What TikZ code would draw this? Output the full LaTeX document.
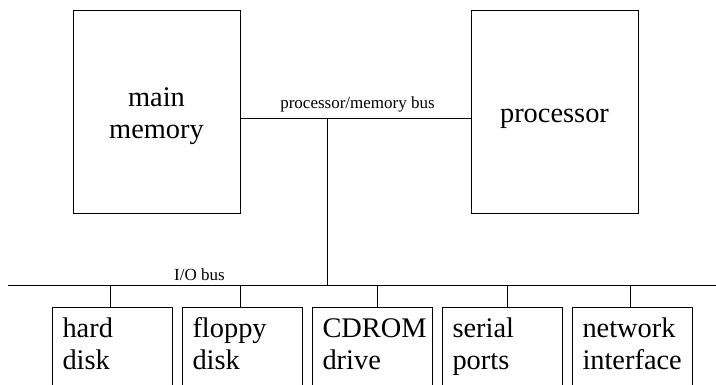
\documentclass[tikz,border=0pt]{standalone}
\usepackage{fontspec}
\setmainfont{Liberation Serif}
\begin{document}
\begin{tikzpicture}[x=1pt,y=-1pt,line width=1pt,
  big/.style={font=\fontsize{28.4}{32}\selectfont,inner sep=0pt},
  small/.style={font=\fontsize{17}{20}\selectfont,inner sep=0pt},
  bigbox/.style={draw,rectangle,inner sep=0pt,anchor=north west,minimum width=167pt,minimum height=203pt},
  devbox/.style={draw,rectangle,inner sep=0pt,anchor=north west,minimum width=120pt,minimum height=110pt},
  devtext/.style={big,align=left,anchor=base west}]
\useasboundingbox (0,0) rectangle (716,384);
\clip (0,0) rectangle (716,384);
% upper boxes
\node[bigbox] (mm) at (73,10) {};
\node[bigbox] (proc) at (471,10) {};
\node[big,align=center,anchor=base] (mmtxt) at (156.5,138) {main\\memory};
\node[big,anchor=base] (proctxt) at (554.5,122) {processor};
% buses
\coordinate (mbus) at (327,118);
\coordinate (iol) at (8,285);
\coordinate (ior) at (716,285);
\draw (mm.east |- mbus) -- (proc.west |- mbus);
\node[small,anchor=base] (mbuslbl) at (357.5,108) {processor/memory bus};
\draw (iol) -- (ior);
\draw (mbus) -- (mbus |- iol);
\node[small,anchor=base] (iobuslbl) at (199.5,280) {I/O bus};
% devices
\node[devbox] (d1) at (52,307) {};
\node[devbox] (d2) at (182,307) {};
\node[devbox] (d3) at (312,307) {};
\node[devbox] (d4) at (442,307) {};
\node[devbox] (d5) at (572,307) {};
\node[devtext] (t1) at (62,369) {hard\\disk};
\node[devtext] (t2) at (192,369) {floppy\\disk};
\node[devtext] (t3) at (322,369) {CDROM\\drive};
\node[devtext] (t4) at (452,369) {serial\\ports};
\node[devtext] (t5) at (582,369) {network\\interface};
% stubs
\draw ([xshift=-2pt]d1.north) -- ([xshift=-2pt]d1.north |- iol);
\draw ([xshift=-2pt]d2.north) -- ([xshift=-2pt]d2.north |- iol);
\draw ([xshift=5pt]d3.north) -- ([xshift=5pt]d3.north |- iol);
\draw ([xshift=5pt]d4.north) -- ([xshift=5pt]d4.north |- iol);
\draw ([xshift=-2pt]d5.north) -- ([xshift=-2pt]d5.north |- iol);
\end{tikzpicture}
\end{document}
